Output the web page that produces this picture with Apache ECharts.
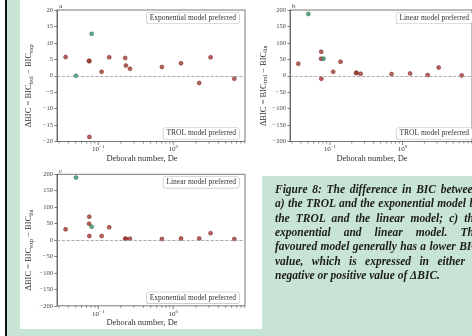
<!DOCTYPE html>
<html>
<head>
<meta charset="utf-8">
<script src="https://cdn.jsdelivr.net/npm/echarts@6/dist/echarts.min.js"></script>
<style>
  html, body { margin: 0; padding: 0; width: 472px; height: 336px; overflow: hidden; background: #fff; }
  .bg { position: absolute; }
  #caption { position: absolute; left: 275px; top: 182px; width: 204px; font-family: 'Liberation Serif', serif;
    font-style: italic; font-weight: bold; font-size: 11.5px; line-height: 14.35px; color: #1c1c1c; white-space: nowrap; }
  #caption div { text-align: justify; text-align-last: justify; }
  #caption div.last { text-align-last: left; }
  #chart { position: absolute; left: 0; top: 0; width: 472px; height: 336px; }
</style>
</head>
<body>
<div class="bg" style="left:0;top:0;width:5px;height:336px;background:#fff"></div>
<div class="bg" style="left:5px;top:0;width:2px;height:336px;background:#111"></div>
<div class="bg" style="left:7px;top:0;width:465px;height:336px;background:#c8e4d4"></div>
<div class="bg" style="left:20px;top:0;width:452px;height:176px;background:#fff"></div>
<div class="bg" style="left:20px;top:176px;width:242px;height:153px;background:#fff"></div>
<div id="chart"></div>
<div id="caption">
  <div>Figure 8: The difference in BIC between</div>
  <div>a) the TROL and the exponential model b)</div>
  <div>the TROL and the linear model; c) the</div>
  <div>exponential and linear model. The</div>
  <div>favoured model generally has a lower BIC</div>
  <div>value, which is expressed in either a</div>
  <div class="last">negative or positive value of ΔBIC.</div>
</div>
<script>
// Deborah numbers of the samples (same for all three panels)
const deRed = [0.0367, 0.0759, 0.0755, 0.0762, 0.111, 0.140, 0.229, 0.234, 0.265, 0.706, 1.27, 2.22, 3.15, 6.52];
const deGreen = [0.0505, 0.0817];

// a) TROL - exponential
const aRed = [5.7, 4.4, 4.6, -18.6, 1.2, 5.6, 5.4, 3.1, 2.1, 2.65, 3.8, -2.2, 5.6, -0.9];
const aGreen = [0, 12.75];
// b) TROL - linear
const bRed = [36.6, 73, 51.8, -9, 12, 42.7, 9, 8, 6, 5, 7, 2, 25, 1];
const bGreen = [188, 52];
// c) exponential - linear
const cRed = [32.6, 71, 49.7, 12.2, 12.2, 38.7, 4, 4, 4, 3, 5, 5, 21, 3];
const cGreen = [190, 40.6];

const majorTicks = [0.1, 1];
const minorTicks = [0.03, 0.04, 0.05, 0.06, 0.07, 0.08, 0.09, 0.2, 0.3, 0.4, 0.5, 0.6, 0.7, 0.8, 0.9, 2, 3, 4, 5, 6, 7, 8, 9];

const xMin = 0.0282;
const xMax = 9.06;
const font = 'Liberation Serif';
const red = '#a53a31';
const green = '#3a9468';

const panels = [
  { id: 'a', red: aRed, green: aGreen, lim: 20, step: 5, sub1: 'trol', sub2: 'exp',
    top: 'Exponential model preferred', bottom: 'TROL model preferred' },
  { id: 'b', red: bRed, green: bGreen, lim: 200, step: 50, sub1: 'trol', sub2: 'lin',
    top: 'Linear model preferred', bottom: 'TROL model preferred' },
  { id: 'c', red: cRed, green: cGreen, lim: 200, step: 50, sub1: 'exp', sub2: 'lin',
    top: 'Linear model preferred', bottom: 'Exponential model preferred' }
];
const boxes = [
  { left: 57, top: 10 },
  { left: 290, top: 10 },
  { left: 57, top: 174.3 }
];
const W = 188, H = 131.5;

const pair = (xs, ys) => xs.map((x, i) => [x, ys[i]]);
const minus = (v) => String(v).replace('-', '\u2212');

const grid = [], xAxis = [], yAxis = [], series = [], graphic = [];

panels.forEach((p, i) => {
  const b = boxes[i];
  grid.push({ left: b.left, top: b.top, width: W, height: H, show: true,
    borderColor: '#555', borderWidth: 0.8, backgroundColor: 'transparent' });

  xAxis.push({
    type: 'log', gridIndex: i, min: xMin, max: xMax,
    name: 'Deborah number, De', nameLocation: 'middle', nameGap: 12,
    nameTextStyle: { fontFamily: font, fontSize: 8.5, color: '#333', padding: [0, 18, 0, 0] },
    axisLine: { show: false }, axisTick: { show: false }, splitLine: { show: false },
    axisLabel: {
      margin: 3, showMinLabel: false, showMaxLabel: false,
      formatter: (v) => (Math.abs(v - 0.1) < 1e-9 ? '10{s|\u22121}' : Math.abs(v - 1) < 1e-9 ? '10{s|0}' : ''),
      fontFamily: font, fontSize: 7, color: '#333',
      rich: { s: { fontFamily: font, fontSize: 5, padding: [0, 0, 5, 0], color: '#333' } }
    }
  });

  yAxis.push({
    type: 'value', gridIndex: i, min: -p.lim, max: p.lim, interval: p.step,
    name: `{n|\u0394BIC = BIC}{s|${p.sub1}}{n| \u2212 BIC}{s|${p.sub2}}`,
    nameLocation: 'middle', nameRotate: 90, nameGap: i === 1 ? 21 : 23,
    nameTextStyle: {
      fontFamily: font, fontSize: 8.5, color: '#333', padding: [0, 20, 0, 0],
      rich: {
        n: { fontFamily: font, fontSize: 8.5, color: '#333' },
        s: { fontFamily: font, fontSize: 6, color: '#333', padding: [4, 0, 0, 0] }
      }
    },
    axisLine: { show: true, lineStyle: { color: '#555', width: 0.8 } },
    axisTick: { show: true, length: 2.5, lineStyle: { color: '#555', width: 0.8 } },
    splitLine: { show: false },
    axisLabel: { margin: 4, fontFamily: font, fontSize: 6.5, color: '#444', formatter: minus }
  });

  series.push({
    type: 'scatter', xAxisIndex: i, yAxisIndex: i, data: pair(deRed, p.red),
    symbolSize: 4, itemStyle: { color: red, borderColor: '#6e1c16', borderWidth: 0.6 },
    markLine: {
      silent: true, symbol: 'none', label: { show: false },
      lineStyle: { type: 'dashed', color: '#999', width: 0.8 },
      data: [{ yAxis: 0 }]
    }
  });
  series.push({
    type: 'scatter', xAxisIndex: i, yAxisIndex: i, data: pair(deGreen, p.green),
    symbolSize: 4, itemStyle: { color: green, borderColor: '#1d6240', borderWidth: 0.6 }
  });

  // log axis ticks, decade and minor (2..9)
  const tickData = majorTicks.map((v) => [v, 3.5]).concat(minorTicks.map((v) => [v, 2]));
  series.push({
    type: 'custom', xAxisIndex: i, yAxisIndex: i, silent: true, clip: false,
    data: tickData,
    renderItem: (params, api) => {
      const pt = api.coord([api.value(0), -p.lim]);
      return { type: 'line', shape: { x1: pt[0], y1: pt[1], x2: pt[0], y2: pt[1] + api.value(1) },
        style: { stroke: '#555', lineWidth: 0.7 } };
    }
  });

  // panel letter and preference labels
  graphic.push({ type: 'text', left: b.left + 2, top: b.top - 7,
    style: { text: p.id, font: `7px "${font}"`, fill: '#333' } });
  const boxStyle = { font: `7.5px "${font}"`, fill: '#333', align: 'right', verticalAlign: 'middle',
    backgroundColor: '#fff', borderColor: '#bbb', borderWidth: 0.6, borderRadius: 2, padding: [1.5, 3] };
  graphic.push({ type: 'text', x: b.left + W - 6, y: b.top + 8,
    style: Object.assign({ text: p.top }, boxStyle) });
  graphic.push({ type: 'text', x: b.left + W - 6, y: b.top + H - 8,
    style: Object.assign({ text: p.bottom }, boxStyle) });
});

const chart = echarts.init(document.getElementById('chart'), null, { renderer: 'canvas' });
chart.setOption({
  backgroundColor: 'transparent',
  animation: false,
  grid, xAxis, yAxis, series, graphic
});
</script>
</body>
</html>
